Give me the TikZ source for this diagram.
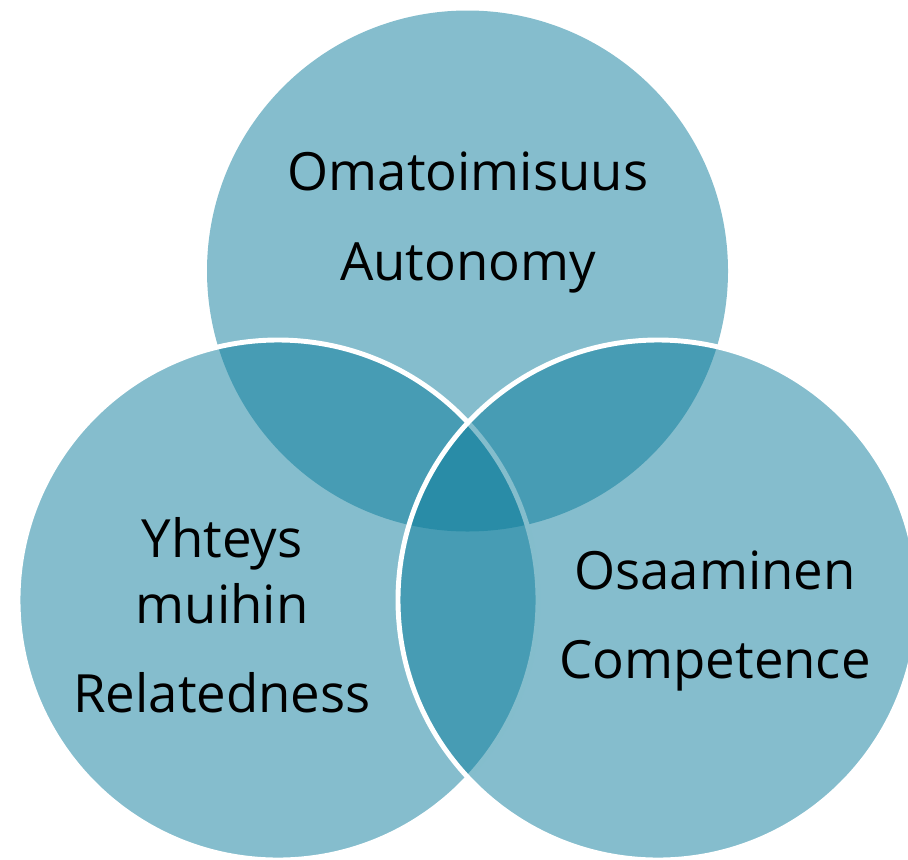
\documentclass[tikz,border=0pt]{standalone}
\usepackage{fontspec}
\setmainfont{Open Sans}
\definecolor{venn}{RGB}{11,124,155}

\begin{document}
\begin{tikzpicture}[x=0.02cm, y=-0.02cm,
	set/.style={fill=venn, fill opacity=0.5},
	rim/.style={draw=white, line width=2.8pt},
	label/.style={anchor=base, inner sep=0pt, font=\fontsize{30}{36}\selectfont}]

	\clip (0,0) rectangle (908,859);

	% the three sets
	\fill [set] (467.5,271) circle (260.5);
	\draw [set, rim] (278,600) circle (260);
	\draw [set, rim] (658,600) circle (260);

	\node[label] (autfi) at (468,190) {Omatoimisuus};
	\node[label] (auten) at (468,280) {Autonomy};
	\node[label] (relfia) at (222,557) {Yhteys};
	\node[label] (relfib) at (222,623) {muihin};
	\node[label] (relen) at (222,712) {Relatedness};
	\node[label] (comfi) at (715,589) {Osaaminen};
	\node[label] (comen) at (715,678) {Competence};
\end{tikzpicture}
\end{document}
